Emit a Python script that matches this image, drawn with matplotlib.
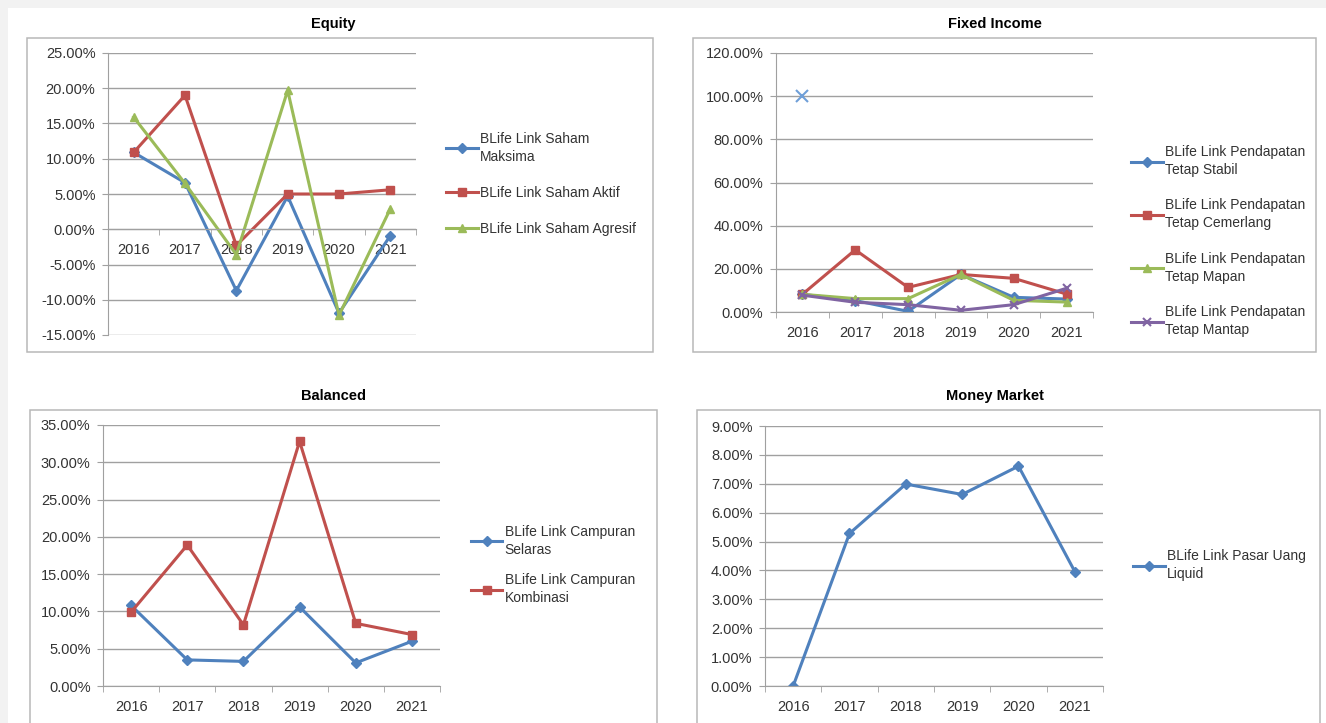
import numpy as np
import matplotlib.pyplot as plt
from matplotlib.patches import Rectangle
from matplotlib.ticker import FuncFormatter

years = ['2016', '2017', '2018', '2019', '2020', '2021']

# Equity
saham_maksima = [10.9, 6.6, -8.7, 4.7, -11.9, -0.9]
saham_aktif = [10.9, 19.0, -2.3, 5.0, 5.0, 5.6]
saham_agresif = [15.9, 6.5, -3.6, 19.7, -12.2, 2.9]

# Fixed income
tetap_stabil = [8.2, 5.3, 0.3, 17.4, 6.8, 6.0]
tetap_cemerlang = [8.2, 28.8, 11.4, 17.4, 15.6, 8.3]
tetap_mapan = [8.2, 6.2, 6.2, 17.4, 5.4, 4.6]
tetap_mantap = [7.8, 4.5, 3.4, 0.8, 3.4, 11.0]
fi_outlier = [100.0, np.nan, np.nan, np.nan, np.nan, np.nan]

# Balanced
campuran_selaras = [10.8, 3.5, 3.3, 10.6, 3.1, 6.0]
campuran_kombinasi = [9.9, 18.9, 8.2, 32.8, 8.4, 6.9]

# Money market
pasar_uang_liquid = [0.0, 5.28, 6.99, 6.63, 7.61, 3.96]

W, H = 1326, 723
plt.rcParams['font.family'] = ['Liberation Sans', 'DejaVu Sans']
fig = plt.figure(figsize=(W/100, H/100), dpi=100)
fig.patch.set_facecolor('white')

txt = '#333333'
gridc = '#a0a0a0'
fs = 10.5
blue, red, green, purple = '#4F81BD', '#C0504D', '#9BBB59', '#8064A2'

def box(x0, y0, x1, y1):
    fig.patches.append(Rectangle((x0/W, 1-y1/H), (x1-x0)/W, (y1-y0)/H,
                                 transform=fig.transFigure, facecolor='white',
                                 edgecolor='#b8b8b8', lw=1.1, zorder=-5))

def make_ax(x0, y0, x1, y1, ylo, yhi, step):
    ax = fig.add_axes([x0/W, 1-y1/H, (x1-x0)/W, (y1-y0)/H])
    ax.set_facecolor('none')
    ax.set_xlim(-0.5, 5.5)
    ax.set_ylim(ylo, yhi)
    ax.set_yticks(np.arange(ylo, yhi+step/2, step))
    ax.yaxis.set_major_formatter(FuncFormatter(lambda v, p: '%.2f%%' % v))
    ax.grid(axis='y', color=gridc, lw=1)
    ax.set_axisbelow(True)
    ax.set_xticks(range(6))
    ax.set_xticklabels(years)
    ax.set_xticks(np.arange(-0.5, 5.6, 1), minor=True)
    ax.tick_params(axis='x', which='major', length=0, pad=10, labelsize=fs, colors=txt)
    ax.tick_params(axis='x', which='minor', length=4, color=gridc, direction='out')
    ax.tick_params(axis='y', length=4, color=gridc, pad=5, labelsize=fs, colors=txt)
    for s in ['top', 'right']:
        ax.spines[s].set_visible(False)
    ax.spines['left'].set_color(gridc)
    ax.spines['bottom'].set_color(gridc)
    ax.spines['bottom'].set_position(('data', 0))
    return ax

def leg(ax, x, y, sp):
    lg = ax.legend(loc='center left', bbox_to_anchor=(x/W, 1-y/H), bbox_transform=fig.transFigure,
                   frameon=False, fontsize=10, handlelength=2.3, handletextpad=0.15,
                   labelspacing=sp, borderaxespad=0, labelcolor=txt)
    for t in lg.get_texts():
        t.set_linespacing(1.35)

# gray frame strip at top and left
fig.patches.append(Rectangle((0, 1-8/H), 1, 8/H, transform=fig.transFigure,
                             facecolor='#f2f2f2', edgecolor='none', zorder=-6))
fig.patches.append(Rectangle((0, 0), 8/W, 1, transform=fig.transFigure,
                             facecolor='#f2f2f2', edgecolor='none', zorder=-6))

x = np.arange(6)
kw = dict(lw=2.2, ms=6)

# Equity
box(27, 38, 653, 352)
ax1 = make_ax(108, 53, 416, 335, -15, 25, 5)
ax1.plot(x, saham_maksima, color=blue, marker='D', ms=5, lw=2.2, label='BLife Link Saham\nMaksima')
ax1.plot(x, saham_aktif, color=red, marker='s', label='BLife Link Saham Aktif', **kw)
ax1.plot(x, saham_agresif, color=green, marker='^', label='BLife Link Saham Agresif', **kw)
leg(ax1, 440, 184, 1.6)
fig.text(333/W, 1-24/H, 'Equity', ha='center', va='center', fontsize=fs, fontweight='bold', color='black')

# Fixed Income
box(693, 38, 1316, 352)
ax2 = make_ax(776, 53, 1093, 312, 0, 120, 20)
ax2.plot(x, tetap_stabil, color=blue, marker='D', ms=5, lw=2.2, label='BLife Link Pendapatan\nTetap Stabil')
ax2.plot(x, tetap_cemerlang, color=red, marker='s', label='BLife Link Pendapatan\nTetap Cemerlang', **kw)
ax2.plot(x, tetap_mapan, color=green, marker='^', label='BLife Link Pendapatan\nTetap Mapan', **kw)
ax2.plot(x, tetap_mantap, color=purple, marker='x', mew=1.5, label='BLife Link Pendapatan\nTetap Mantap', **kw)
ax2.plot(x, fi_outlier, color='#6f9fd8', marker='x', ms=8, mew=1.5, lw=0)
leg(ax2, 1125, 241, 1.55)
fig.text(995/W, 1-24/H, 'Fixed Income', ha='center', va='center', fontsize=fs, fontweight='bold', color='black')

# Balanced
box(30, 410, 657, 730)
ax3 = make_ax(103, 425, 440, 686, 0, 35, 5)
ax3.plot(x, campuran_selaras, color=blue, marker='D', ms=5, lw=2.2, label='BLife Link Campuran\nSelaras')
ax3.plot(x, campuran_kombinasi, color=red, marker='s', label='BLife Link Campuran\nKombinasi', **kw)
leg(ax3, 465, 565, 1.2)
fig.text(333/W, 1-396/H, 'Balanced', ha='center', va='center', fontsize=fs, fontweight='bold', color='black')

# Money Market
box(697, 410, 1320, 730)
ax4 = make_ax(765, 426, 1103, 686, 0, 9, 1)
ax4.plot(x, pasar_uang_liquid, color=blue, marker='D', ms=5, lw=2.2, label='BLife Link Pasar Uang\nLiquid')
leg(ax4, 1127, 565, 1.2)
fig.text(995/W, 1-396/H, 'Money Market', ha='center', va='center', fontsize=fs, fontweight='bold', color='black')

fig.savefig('out.png', dpi=100)
